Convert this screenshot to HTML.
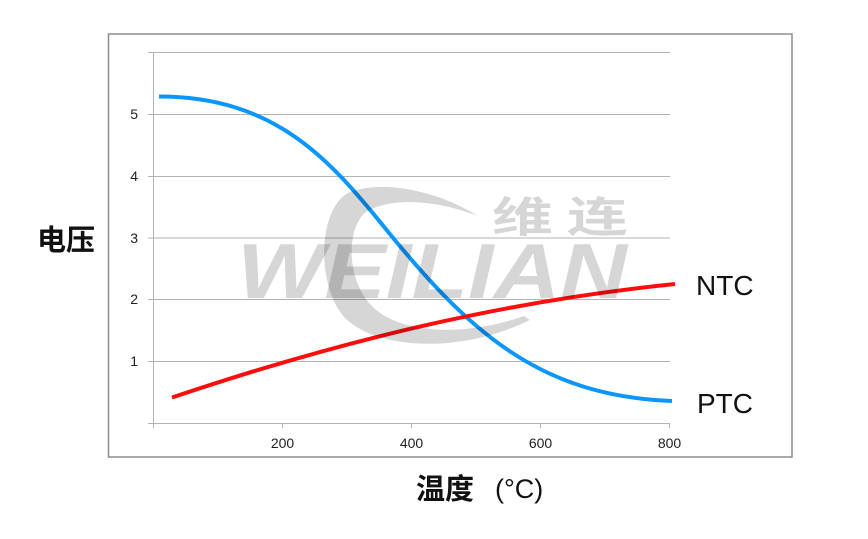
<!DOCTYPE html>
<html>
<head>
<meta charset="utf-8">
<style>
html,body{margin:0;padding:0;background:#fff;}
body{width:868px;height:539px;overflow:hidden;position:relative;}
svg{position:absolute;left:0;top:0;}
</style>
</head>
<body>
<svg width="868" height="539" viewBox="0 0 868 539" xmlns="http://www.w3.org/2000/svg">
  <!-- frame -->
  <rect x="108.5" y="34" width="683.5" height="423" fill="#fff" stroke="#8e8e8e" stroke-width="1.5"/>
  <!-- gridlines -->
  <g stroke="#b3b3b3" stroke-width="1">
    <line x1="148" y1="52.5" x2="670" y2="52.5"/>
    <line x1="148" y1="114.5" x2="670" y2="114.5"/>
    <line x1="148" y1="176.5" x2="670" y2="176.5"/>
    <line x1="148" y1="238" x2="670" y2="238"/>
    <line x1="148" y1="299.5" x2="670" y2="299.5"/>
    <line x1="148" y1="361.5" x2="670" y2="361.5"/>
    <line x1="148" y1="423.5" x2="670" y2="423.5"/>
    <line x1="153.5" y1="52" x2="153.5" y2="428"/>
    <line x1="282.5" y1="423" x2="282.5" y2="428"/>
    <line x1="411.5" y1="423" x2="411.5" y2="428"/>
    <line x1="540.5" y1="423" x2="540.5" y2="428"/>
    <line x1="669.5" y1="423" x2="669.5" y2="428"/>
  </g>
  <!-- tick labels -->
  <g font-family="Liberation Sans, sans-serif" font-size="14" fill="#222">
    <text x="138" y="119" text-anchor="end">5</text>
    <text x="138" y="181" text-anchor="end">4</text>
    <text x="138" y="243" text-anchor="end">3</text>
    <text x="138" y="304" text-anchor="end">2</text>
    <text x="138" y="366" text-anchor="end">1</text>
    <text x="282.5" y="448" text-anchor="middle">200</text>
    <text x="411.5" y="448" text-anchor="middle">400</text>
    <text x="540.5" y="448" text-anchor="middle">600</text>
    <text x="669.5" y="448" text-anchor="middle">800</text>
  </g>
  <!-- series -->
  <path d="M159,96.5 C275,96.5 330,160 385,228 C470,333 540,396 672,401" fill="none" stroke="#0a96ff" stroke-width="4"/>
  <path d="M172,397.5 C340,341 500,302 675,284" fill="none" stroke="#ff0d0d" stroke-width="4"/>
  <!-- watermark -->
  <g fill="#000" fill-opacity="0.16">
    <path d="M478,216 C440,192 385,179 350,192 C318,206 315,285 345,318 C378,350 460,354 530,320 L524,316 C462,338 398,333 372,306 C346,280 346,228 366,212 C392,196 440,201 478,216 Z"/>
    <text x="237" y="298" font-family="Liberation Sans, sans-serif" font-weight="bold" font-style="italic" font-size="78" textLength="390" lengthAdjust="spacingAndGlyphs">WEILIAN</text>
    <text x="492" y="232" font-family="Noto Sans CJK SC, sans-serif" font-weight="bold" font-size="42" textLength="136" lengthAdjust="spacingAndGlyphs">维 连</text>
  </g>
  <!-- labels -->
  <text x="37" y="250" font-family="Liberation Sans, Noto Sans CJK SC, sans-serif" font-weight="bold" font-size="29" fill="#111">电压</text>
  <text x="416" y="499" font-family="Liberation Sans, Noto Sans CJK SC, sans-serif" font-weight="bold" font-size="29" fill="#111">温度</text>
  <text x="495" y="498" font-family="Liberation Sans, sans-serif" font-size="27" fill="#111">(°C)</text>
  <text x="696" y="295" font-family="Liberation Sans, sans-serif" font-size="28" fill="#111">NTC</text>
  <text x="697" y="413" font-family="Liberation Sans, sans-serif" font-size="28" fill="#111">PTC</text>
</svg>
</body>
</html>
